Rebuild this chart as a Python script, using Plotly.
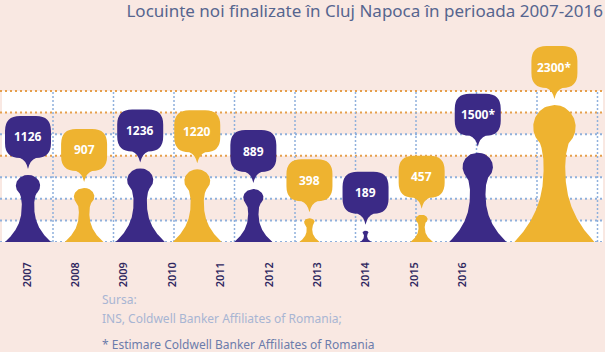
import numpy as np
import plotly.graph_objects as go

# ---------------- data ----------------
years = ["2007", "2008", "2009", "2010", "2011", "2012", "2013", "2014", "2015", "2016"]
values = [1126, 907, 1236, 1220, 889, 398, 189, 457, 1500, 2300]
value_labels = ["1126", "907", "1236", "1220", "889", "398", "189", "457", "1500*", "2300*"]

title_text = "Locuințe noi finalizate în Cluj Napoca în perioada 2007-2016"
source_lines = ["Sursa:", "INS, Coldwell Banker Affiliates of Romania;"]
note_text = "* Estimare Coldwell Banker Affiliates of Romania"

# ---------------- styles / layout constants ----------------
PURPLE = "#3b2a86"
YELLOW = "#eeb330"
BG = "#f9e8e2"
ORANGE_DOT = "#e6a04c"
BLUE_DOT = "#8fb0dc"

W, H = 605, 352
M_T, M_B = 30, 110
PLOT_H = H - M_T - M_B
PX_PER_UNIT = 137 / 2300.0
Y_TOP = PLOT_H / PX_PER_UNIT
GRID_STEP = 21.57 / PX_PER_UNIT

fill_colors = [PURPLE if i % 2 == 0 else YELLOW for i in range(len(values))]

# width of each pawn (x units == pixels)
widths = [0.191 * v ** 0.78 for v in values]
centers = [28.0]
for i in range(1, len(values)):
    centers.append(centers[-1] + max(56.1, (widths[i - 1] + widths[i]) / 2 + 8))


def half_width(v):
    n, vn = 0.27, 0.56
    if v <= vn:
        return n + (1 - n) * (1 - v / vn) ** 2.5
    circ = 0.53 * np.sqrt(max(0.0, 1 - ((v - 0.84) / 0.16) ** 2))
    if v <= 0.84:
        neck = n + (0.53 - n) * ((v - vn) / 0.28) ** 2
        return max(neck, circ)
    return circ


vs = np.linspace(0, 1, 160)
hw = np.array([half_width(v) for v in vs])

fig = go.Figure()

for i, val in enumerate(values):
    cx = centers[i]
    half = widths[i] / 2
    xs = np.concatenate([cx + hw * half, (cx - hw * half)[::-1]])
    ys = np.concatenate([vs * val, (vs * val)[::-1]])
    fig.add_trace(go.Scatter(
        x=xs, y=ys, mode="lines", fill="toself", fillcolor=fill_colors[i],
        line=dict(width=0, color=fill_colors[i]), hoverinfo="skip", showlegend=False,
    ))

# invisible trace for the year axis
fig.add_trace(go.Scatter(x=years, y=[0] * len(years), xaxis="x2", mode="markers",
                         marker=dict(opacity=0), hoverinfo="skip", showlegend=False))

shapes = []
# white bands
for k in range(0, 7, 2):
    shapes.append(dict(type="rect", xref="x", yref="y", x0=2, x1=603,
                       y0=k * GRID_STEP, y1=(k + 1) * GRID_STEP,
                       fillcolor="white", line=dict(width=0), layer="below"))
# horizontal dotted lines
orange_rows = {4, 6, 7}
for k in range(8):
    col = ORANGE_DOT if k in orange_rows else BLUE_DOT
    shapes.append(dict(type="line", xref="x", yref="y", x0=0, x1=603,
                       y0=k * GRID_STEP, y1=k * GRID_STEP,
                       line=dict(color=col, width=2, dash="2px,3px"), layer="below"))
# vertical dotted lines
for k in range(10):
    xv = 53 + 60.5 * k
    shapes.append(dict(type="line", xref="x", yref="y", x0=xv, x1=xv,
                       y0=0, y1=7 * GRID_STEP,
                       line=dict(color=BLUE_DOT, width=1.5, dash="2px,2px"), layer="below"))

# speech bubbles (pixel sized, anchored at data values)
bw, bb, bt, r, tail = 23, 17, 59, 15, 8
tip = 6
bubble_path = (
    f"M {-bw + r},{bt} L {bw - r},{bt} Q {bw},{bt} {bw},{bt - r} "
    f"L {bw},{bb + r} Q {bw},{bb} {bw - r},{bb} L {tail},{bb} "
    f"Q 2,{bb - 2} 0,{tip} Q -2,{bb - 2} {-tail},{bb} "
    f"L {-bw + r},{bb} Q {-bw},{bb} {-bw},{bb + r} L {-bw},{bt - r} "
    f"Q {-bw},{bt} {-bw + r},{bt} Z"
)
annotations = []
for i, val in enumerate(values):
    shapes.append(dict(type="path", xref="x", yref="y", xsizemode="pixel", ysizemode="pixel",
                       xanchor=centers[i], yanchor=val, path=bubble_path,
                       fillcolor=fill_colors[i], line=dict(width=0), layer="above"))
    annotations.append(dict(x=centers[i], y=val, xref="x", yref="y", yshift=(bb + bt) / 2,
                            text=f"<b>{value_labels[i]}</b>", showarrow=False,
                            font=dict(family="Noto Sans", size=12, color="white"),
                            xanchor="center", yanchor="middle"))

# source text
def py(pix):
    return (H - M_B - pix) / PLOT_H

annotations.append(dict(x=100 / W, y=py(299), xref="paper", yref="paper", text=source_lines[0],
                        showarrow=False, xanchor="left", yanchor="middle",
                        font=dict(family="Noto Sans", size=12, color="#a8b5d3")))
annotations.append(dict(x=100 / W, y=py(318), xref="paper", yref="paper", text=source_lines[1],
                        showarrow=False, xanchor="left", yanchor="middle",
                        font=dict(family="Noto Sans", size=12, color="#a8b5d3")))
annotations.append(dict(x=100 / W, y=py(344), xref="paper", yref="paper", text=note_text,
                        showarrow=False, xanchor="left", yanchor="middle",
                        font=dict(family="Noto Sans", size=12, color="#6c7cab")))

label_step = 48.4
fig.update_layout(
    width=W, height=H,
    margin=dict(l=0, r=0, t=M_T, b=M_B, pad=0),
    paper_bgcolor=BG, plot_bgcolor=BG,
    title=dict(text=title_text, x=603 / W, xanchor="right", xref="paper",
               y=1 - 11 / H, yanchor="middle", yref="container",
               font=dict(family="Noto Sans", size=17, color="#56658f")),
    xaxis=dict(range=[0, W], visible=False, fixedrange=True),
    xaxis2=dict(type="category", overlaying="x", anchor="y", side="bottom",
                range=[-27 / label_step, (W - 27) / label_step],
                tickangle=-90, showgrid=False, zeroline=False, showline=False,
                ticks="", ticklabelstandoff=17,
                tickfont=dict(family="Noto Sans", size=11, weight=600, color="#2f275f")),
    yaxis=dict(range=[0, Y_TOP], visible=False, fixedrange=True),
    shapes=shapes,
    annotations=annotations,
    showlegend=False,
)

fig.write_html("out.html")
